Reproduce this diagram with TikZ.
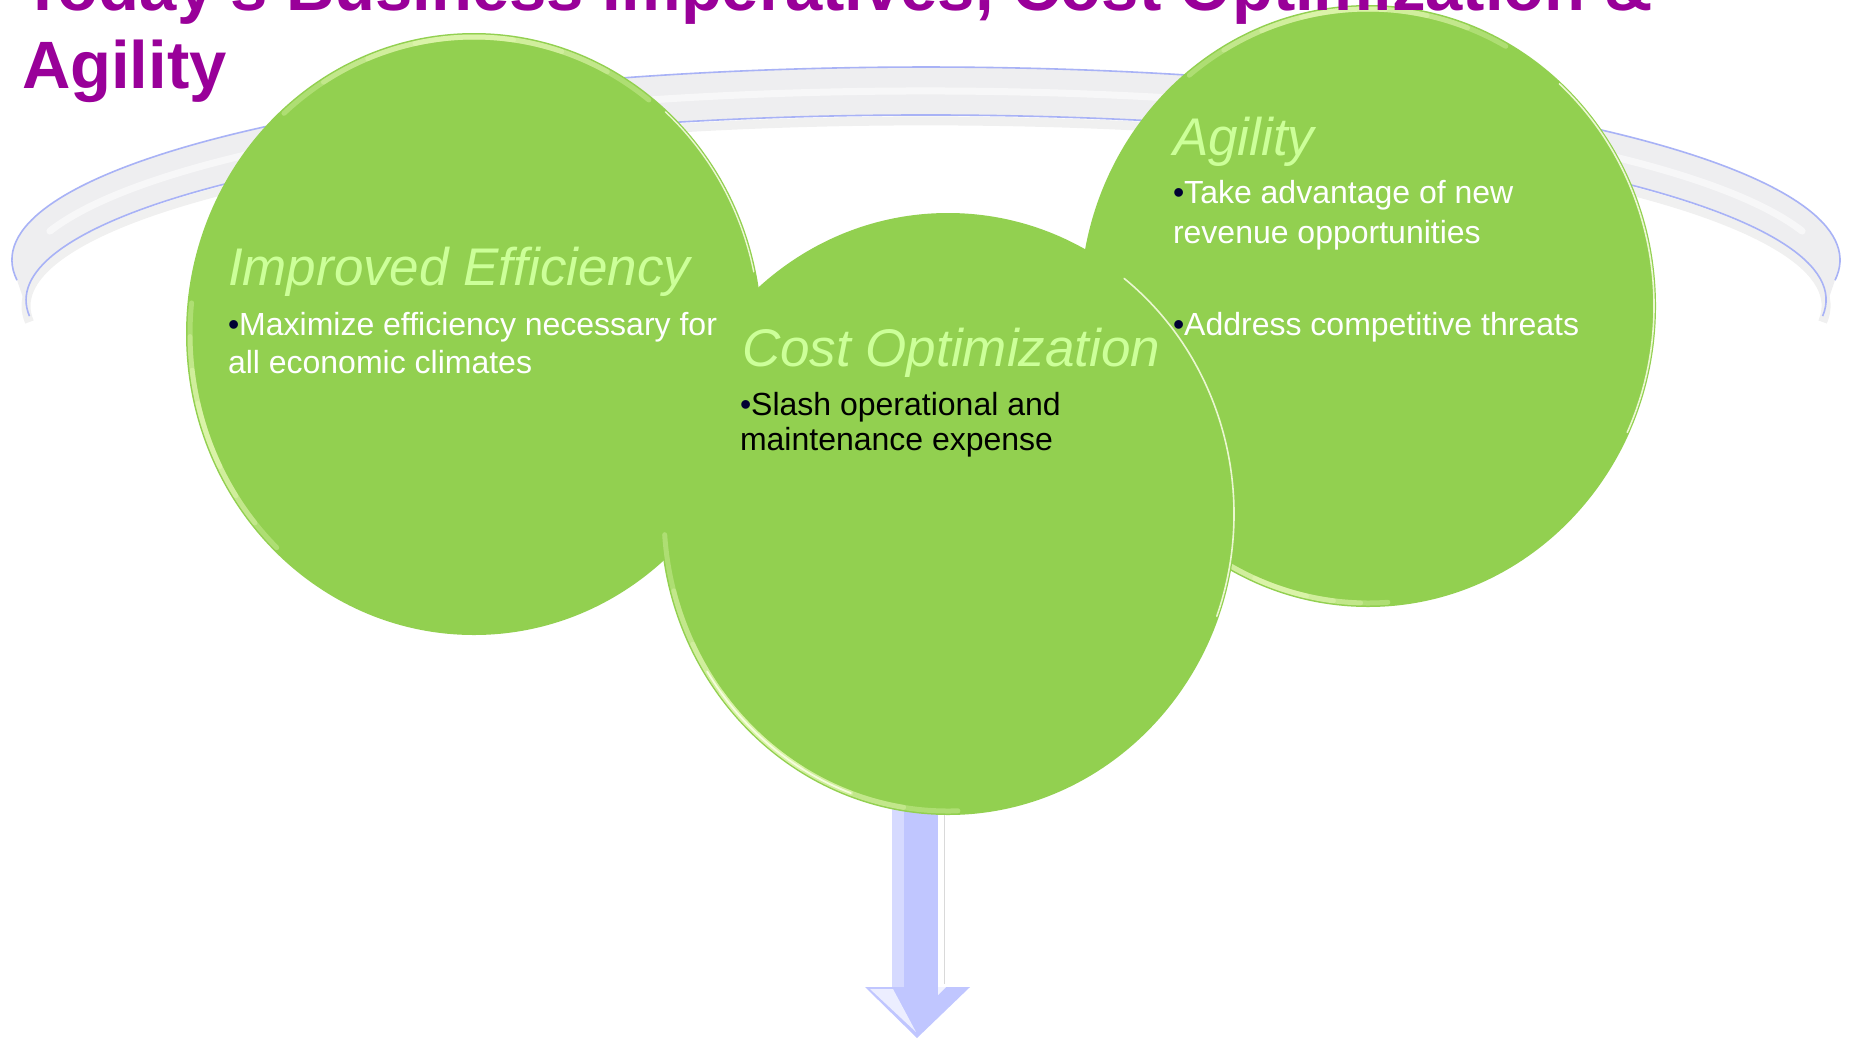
\documentclass[tikz,border=0pt]{standalone}
\usepackage{fontspec}
\setmainfont{Liberation Sans}
\usetikzlibrary{shapes.geometric}
\definecolor{cgreen}{HTML}{92D050}
\definecolor{glowc}{HTML}{F2FFC4}
\definecolor{headc}{HTML}{CCFF99}
\definecolor{titlec}{HTML}{990099}
\definecolor{bulc}{HTML}{000033}
\definecolor{bandedge}{HTML}{A8B2F6}
\definecolor{bandfill}{HTML}{EEEEF0}
\definecolor{arrowc}{HTML}{C0C6FF}
\definecolor{arrowl}{HTML}{D6DAFF}
\newcommand\rimglow[6]{%
  \foreach \k in {1,0.75,0.5,0.25}{%
    \draw[line width=#6, draw=glowc, opacity=0.3, line cap=round]
      (#1) ++({#4-#5*\k}:#2 and #3)
      arc[start angle={#4-#5*\k}, end angle={#4+#5*\k}, x radius=#2pt, y radius=#3pt];
  }}
\newcommand\rimline[6]{%
  \draw[line width=#6, draw=white!60!glowc, opacity=0.85, line cap=round]
    (#1) ++(#4:#2 and #3)
    arc[start angle=#4, end angle=#5, x radius=#2pt, y radius=#3pt];}
\newcommand\bul{{\color{bulc}•}}
\begin{document}
\begin{tikzpicture}[x=1pt,y=1pt,
  bubble/.style={ellipse, fill=cgreen, minimum width=576pt, minimum height=602pt, inner sep=0pt, outer sep=0pt},
  txt/.style={anchor=base west, inner sep=0pt, outer sep=0pt},
  head/.style={txt, font=\fontsize{53}{60}\selectfont\itshape, text=headc},
  body/.style={txt, font=\fontsize{32}{38}\selectfont, text=white},
  bodyk/.style={txt, font=\fontsize{32}{38}\selectfont, text=black},
  ttl/.style={txt, font=\fontsize{67}{80}\selectfont\bfseries, text=titlec}]
\useasboundingbox (0,0) rectangle (1851,-1039);
\fill[white] (0,0) rectangle (1851,-1039);

% ring band behind the bubbles
\draw[black, opacity=0.06, line width=9pt] (1822.6,-322) arc[start angle=-5, end angle=185, x radius=900pt, y radius=185pt];
\fill[bandfill] (17,-280.2) arc[start angle=186, end angle=-6, x radius=914pt, y radius=193pt]
  -- (1822.6,-316.1) arc[start angle=-5, end angle=185, x radius=900pt, y radius=185pt] -- cycle;
\draw[white, line width=7pt, opacity=0.55, line cap=round] (926,-280) ++(165:907 and 189) arc[start angle=165, end angle=15, x radius=907pt, y radius=189pt];
\draw[bandedge, line width=1.6pt] (17,-280.2) arc[start angle=186, end angle=-6, x radius=914pt, y radius=193pt];
\draw[bandedge, line width=1.6pt] (1822.6,-316.1) arc[start angle=-5, end angle=185, x radius=900pt, y radius=185pt];

% down arrow
\fill[arrowc] (892,-780) rectangle (938,-990);
\fill[arrowl] (892,-780) rectangle (904,-990);
\draw[gray!30, line width=1pt] (944,-800) -- (944,-984);
\fill[arrowc] (865,-987) -- (970,-987) -- (917,-1038) -- cycle;
\fill[white, opacity=0.7] (870,-989) -- (893,-989) -- (916,-1032) -- cycle;
\fill[white, opacity=0.8] (938,-987) -- (946,-987) -- (938,-995) -- cycle;

% bubbles
\node[bubble] (cL) at (474,-334) {};
\rimglow{cL.center}{284}{297}{92}{40}{5pt}
\rimglow{cL.center}{284}{297}{200}{26}{5pt}
\rimline{cL.center}{286}{299}{12}{48}{1.4pt}
\node[bubble] (cR) at (1368,-306) {};
\rimglow{cR.center}{284}{297}{95}{34}{5pt}
\rimglow{cR.center}{284}{297}{252}{22}{5pt}
\rimline{cR.center}{286}{299}{-25}{48}{1.6pt}
\node[bubble] (cC) at (948,-514) {};
\rimglow{cC.center}{284}{297}{228}{44}{5pt}
\rimline{cC.center}{284}{297}{212}{250}{1.8pt}
\rimline{cC.center}{286}{299}{-20}{52}{1.6pt}

% texts
\node[head] (hL) at (228,-285) {Improved Efficiency};
\node[body] (bL1) at (228,-335) {\bul Maximize efficiency necessary for};
\node[body] (bL2) at (228,-373) {all economic climates};
\node[head] (hC) at (742,-366) {Cost Optimization};
\node[bodyk] (bC1) at (740,-415) {\bul Slash operational and};
\node[bodyk] (bC2) at (740,-450) {maintenance expense};
\node[head] (hR) at (1173,-155) {Agility};
\node[body] (bR1) at (1173,-203) {\bul Take advantage of new};
\node[body] (bR2) at (1173,-243) {revenue opportunities};
\node[body] (bR3) at (1173,-335) {\bul Address competitive threats};

% title
\node[ttl] (t1) at (22,-10) {Today's Business Imperatives, Cost Optimization \&};
\node[ttl] (t2) at (22,-88) {Agility};
\end{tikzpicture}
\end{document}
